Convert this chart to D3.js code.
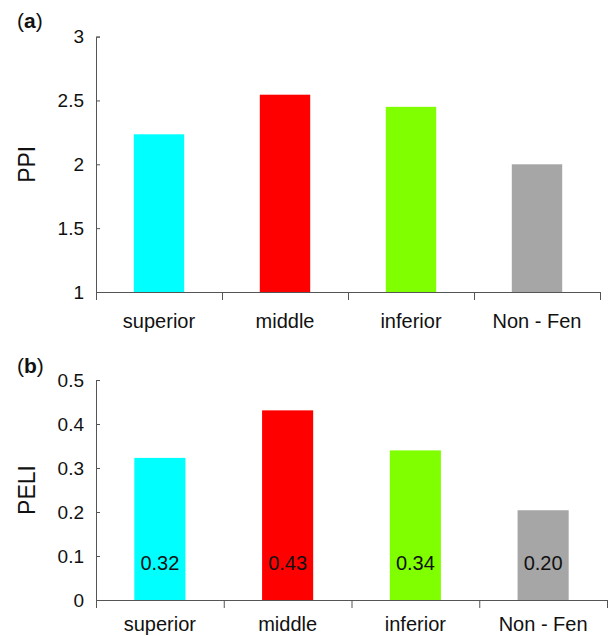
<!DOCTYPE html>
<html>
<head>
<meta charset="utf-8">
<script src="https://cdn.jsdelivr.net/npm/d3@7"></script>
<style>
  body { margin: 0; background: #fff; }
  svg text { font-family: "Liberation Sans", Arial, Helvetica, sans-serif; fill: #111; }
  .axis path, .axis line { stroke: #555; stroke-width: 1; }
</style>
</head>
<body>
<svg id="chart" width="608" height="636"></svg>
<script>
// data
var categories = ["superior", "middle", "inferior", "Non - Fen"];
var colors = ["#00ffff", "#ff0000", "#80ff00", "#a6a6a6"];
var ppiValues = [2.235, 2.545, 2.45, 2.0];
var peliValues = [0.323, 0.431, 0.340, 0.204];
var ppiTicks = [1, 1.5, 2, 2.5, 3];
var peliTicks = [0, 0.1, 0.2, 0.3, 0.4, 0.5];

var svg = d3.select("#chart");

function panel(opts) {
    var g = svg.append("g");

    var x = d3.scaleBand().domain(categories)
        .range([opts.left, opts.right])
        .paddingInner(0.6).paddingOuter(0.3);
    var xEdge = d3.scaleLinear().domain([0, categories.length])
        .range([opts.left, opts.right]);
    var y = d3.scaleLinear().domain(opts.domain).range([opts.bottom, opts.top]);

    // bars
    g.selectAll("rect.bar")
        .data(opts.values)
        .enter().append("rect")
        .attr("class", "bar")
        .attr("x", function(d, i) { return x(categories[i]); })
        .attr("y", function(d) { return y(d); })
        .attr("width", x.bandwidth())
        .attr("height", function(d) { return y(opts.domain[0]) - y(d); })
        .style("fill", function(d, i) { return colors[i]; });

    // value labels inside bars
    if (opts.showValues) {
        g.selectAll("text.val")
            .data(opts.values)
            .enter().append("text")
            .attr("class", "val")
            .attr("x", function(d, i) { return x(categories[i]) + x.bandwidth() / 2; })
            .attr("y", y(opts.domain[0]) - 30)
            .attr("text-anchor", "middle")
            .style("font-size", "20px")
            .text(d3.format(".2f"));
    }

    // y axis, ticks pointing inwards
    var ya = g.append("g").attr("class", "axis")
        .attr("transform", "translate(" + opts.left + ",0)")
        .call(d3.axisLeft(y).tickValues(opts.ticks).tickSize(-4).tickPadding(12)
            .tickFormat(d3.format("~g")));
    ya.selectAll("text").style("font-size", "19px");

    // x axis with ticks at category boundaries
    var xa = g.append("g").attr("class", "axis")
        .attr("transform", "translate(0," + opts.bottom + ")")
        .call(d3.axisBottom(xEdge).tickValues(d3.range(categories.length + 1))
            .tickSize(8).tickFormat(""));

    g.selectAll("text.cat")
        .data(categories)
        .enter().append("text")
        .attr("class", "cat")
        .attr("x", function(d) { return x(d) + x.bandwidth() / 2; })
        .attr("y", opts.bottom + opts.catOffset)
        .attr("text-anchor", "middle")
        .style("font-size", "20px")
        .text(function(d) { return d; });

    // y title
    g.append("text")
        .attr("transform", "translate(35," + ((opts.top + opts.bottom) / 2) + ") rotate(-90)")
        .attr("text-anchor", "middle")
        .style("font-size", "23px")
        .text(opts.title);

    // panel letter
    var lab = g.append("text")
        .attr("x", 17).attr("y", opts.letterY)
        .style("font-size", "21px");
    lab.append("tspan").text("(");
    lab.append("tspan").style("font-weight", "bold").text(opts.letter);
    lab.append("tspan").text(")");
}

panel({
    values: ppiValues, domain: [1, 3], ticks: ppiTicks, title: "PPI",
    left: 96, right: 600, top: 36.6, bottom: 292,
    catOffset: 36, letter: "a", letterY: 28, showValues: false
});

panel({
    values: peliValues, domain: [0, 0.5], ticks: peliTicks, title: "PELI",
    left: 96, right: 607, top: 380, bottom: 600,
    catOffset: 31, letter: "b", letterY: 373, showValues: true
});
</script>
</body>
</html>
